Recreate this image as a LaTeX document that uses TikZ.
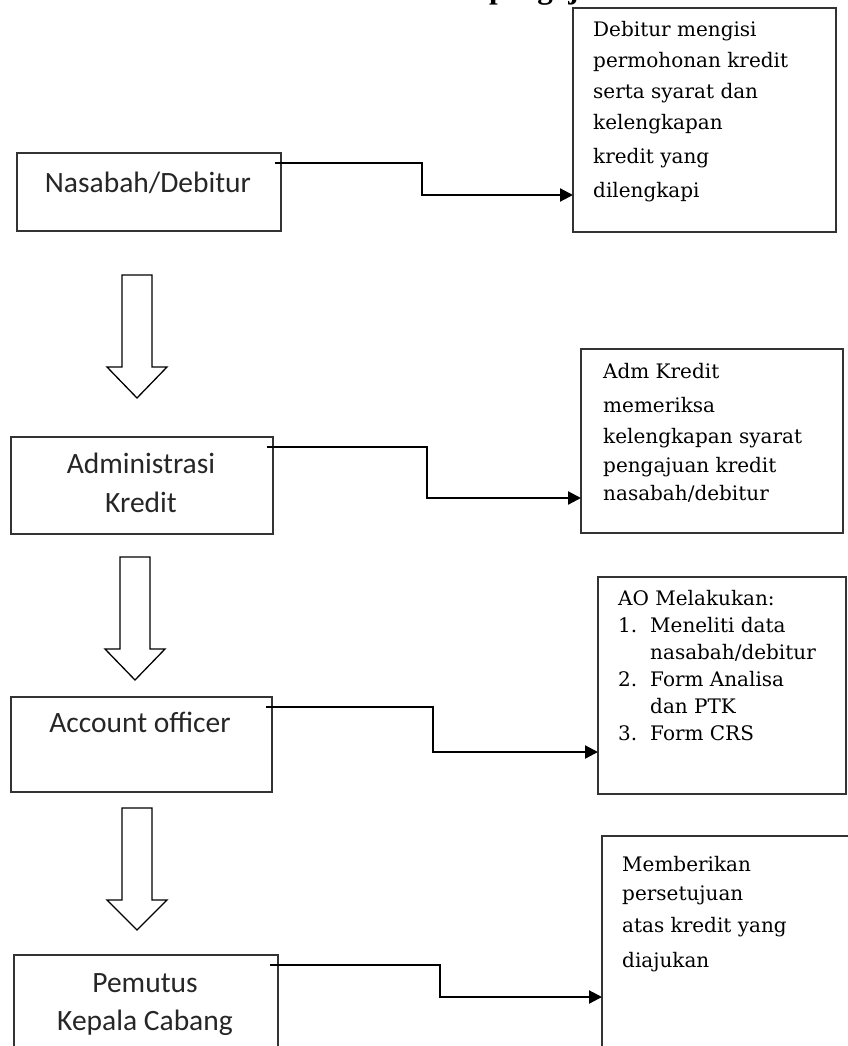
\documentclass[tikz,border=0pt]{standalone}
\usepackage{fontspec}
\newfontfamily\lfont{Carlito}
\newfontfamily\rfont{DejaVu Serif}
\newfontfamily\tfont{Liberation Serif}
\usetikzlibrary{arrows.meta}
\begin{document}
\begin{tikzpicture}[x=1pt,y=-1pt,
 box/.style={draw=black!80,line width=1.3pt,anchor=north west,inner sep=0pt,outer sep=0pt},
 conn/.style={line width=2.2pt,-{Triangle[length=13pt,width=13pt]}},
 hollow/.style={draw=black,line width=1.3pt,fill=white,line join=miter},
 ltext/.style={font=\lfont\fontsize{29.5}{35}\selectfont,text=black!85,inner sep=0pt},
 rtext/.style={font=\rfont\fontsize{20}{30}\selectfont,anchor=base west,inner sep=0pt},
 ttext/.style={font=\tfont\bfseries\fontsize{31}{36}\selectfont,anchor=base west,inner sep=0pt}]
\useasboundingbox (0,0) rectangle (848,1046);
% title fragment (cut off at top)
\node[ttext] (title) at (489,-1) {pengajuan};
% left boxes
\node[box,minimum width=264pt,minimum height=78pt] (b1) at (17,153) {};
\node[box,minimum width=262pt,minimum height=97pt] (b2) at (11,437) {};
\node[box,minimum width=261pt,minimum height=95pt] (b3) at (11,697) {};
\node[box,minimum width=264pt,minimum height=115pt] (b4) at (14,955) {};
% right boxes
\node[box,minimum width=263pt,minimum height=224pt] (r1) at (573,8) {};
\node[box,minimum width=262pt,minimum height=184pt] (r2) at (581,349) {};
\node[box,minimum width=248pt,minimum height=217pt] (r3) at (598,577) {};
\node[box,minimum width=268pt,minimum height=234pt] (r4) at (602,836) {};
% left texts
\node[ltext] (t1) at (148,183) {Nasabah/Debitur};
\node[ltext] (t2a) at (141,463) {Administrasi};
\node[ltext] (t2b) at (141,502) {Kredit};
\node[ltext] (t3) at (140,722) {Account officer};
\node[ltext] (t4a) at (145,983) {Pemutus};
\node[ltext] (t4b) at (145,1023) {Kepala Cabang};
% right texts
\node[rtext] (r1a) at (593,37) {Debitur mengisi};
\node[rtext] (r1b) at (593,68) {permohonan kredit};
\node[rtext] (r1c) at (593,99) {serta syarat dan};
\node[rtext] (r1d) at (593,130) {kelengkapan};
\node[rtext] (r1e) at (593,163) {kredit yang};
\node[rtext] (r1f) at (593,197) {dilengkapi};
\node[rtext] (r2a) at (603,378) {Adm Kredit};
\node[rtext] (r2b) at (603,412) {memeriksa};
\node[rtext] (r2c) at (603,443) {kelengkapan syarat};
\node[rtext] (r2d) at (603,472) {pengajuan kredit};
\node[rtext] (r2e) at (603,500) {nasabah/debitur};
\node[rtext] (r3a) at (618,605) {AO Melakukan:};
\node[rtext] (r3n1) at (618,632) {1.};
\node[rtext] (r3b) at (650,632) {Meneliti data};
\node[rtext] (r3c) at (650,659) {nasabah/debitur};
\node[rtext] (r3n2) at (618,686) {2.};
\node[rtext] (r3d) at (650,686) {Form Analisa};
\node[rtext] (r3e) at (650,713) {dan PTK};
\node[rtext] (r3n3) at (618,740) {3.};
\node[rtext] (r3f) at (650,740) {Form CRS};
\node[rtext] (r4a) at (622,871) {Memberikan};
\node[rtext] (r4b) at (622,900) {persetujuan};
\node[rtext] (r4c) at (622,932) {atas kredit yang};
\node[rtext] (r4d) at (622,967) {diajukan};
% connector coordinates
\coordinate (c1s) at (275,163); \coordinate (c1m) at (422,180); \coordinate (c1e) at (r1.west |- 0,195);
\coordinate (c2s) at (267,447); \coordinate (c2m) at (427,470); \coordinate (c2e) at (r2.west |- 0,498);
\coordinate (c3s) at (266,707); \coordinate (c3m) at (433,730); \coordinate (c3e) at (r3.west |- 0,752);
\coordinate (c4s) at (270,965); \coordinate (c4m) at (440,980); \coordinate (c4e) at (r4.west |- 0,997);
\draw[conn] (c1s) -| (c1m) |- (c1e);
\draw[conn] (c2s) -| (c2m) |- (c2e);
\draw[conn] (c3s) -| (c3m) |- (c3e);
\draw[conn] (c4s) -| (c4m) |- (c4e);
% hollow block arrows
\draw[hollow] (122,275) -- (152,275) -- (152,367) -- (167,367) -- (137,398) -- (107,367) -- (122,367) -- cycle;
\draw[hollow] (120,557) -- (150,557) -- (150,649) -- (165,649) -- (135,680) -- (105,649) -- (120,649) -- cycle;
\draw[hollow] (122,808) -- (152,808) -- (152,900) -- (167,900) -- (137,930) -- (107,900) -- (122,900) -- cycle;
\end{tikzpicture}
\end{document}
